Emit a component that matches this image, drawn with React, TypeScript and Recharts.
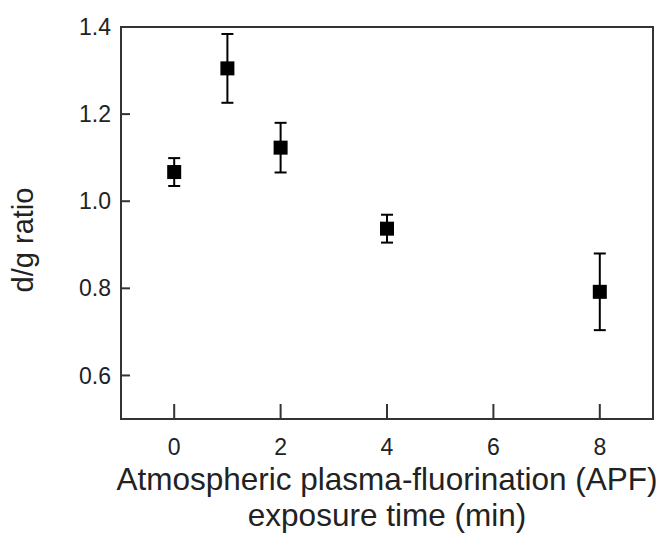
import { ScatterChart, Scatter, XAxis, YAxis, ErrorBar, ReferenceArea } from "recharts"

const times = [0, 1, 2, 4, 8]
const ratios = [1.067, 1.305, 1.123, 0.937, 0.792]
const errors = [0.032, 0.079, 0.057, 0.032, 0.088]

const xTicks = [0, 2, 4, 6, 8]
const yTicks = [0.6, 0.8, 1.0, 1.2, 1.4]
const xTitle = ["Atmospheric plasma-fluorination (APF)", "exposure time (min)"]
const yTitle = "d/g ratio"

const data = times.map((t, i) => ({ time: t, ratio: ratios[i], err: errors[i] }))

const font = "'Liberation Sans', Arial, sans-serif"
const ink = "#222"
const frame = "#333"
const markerSide = 14

const XTitle = (props: any) => {
  const { viewBox } = props
  const cx = viewBox.x + viewBox.width / 2
  return (
    <text textAnchor="middle" fontSize={31.5} fontFamily={font} fill={ink}>
      <tspan x={cx} y={viewBox.y + 71}>{xTitle[0]}</tspan>
      <tspan x={cx} y={viewBox.y + 107}>{xTitle[1]}</tspan>
    </text>
  )
}

const YTitle = (props: any) => {
  const { viewBox } = props
  const x = viewBox.x + 33
  const y = 240
  return (
    <text
      x={x}
      y={y}
      transform={`rotate(-90, ${x}, ${y})`}
      textAnchor="middle"
      fontSize={29}
      fontFamily={font}
      fill={ink}
    >
      {yTitle}
    </text>
  )
}

// filled square centred on the point the scatter computes
const SquareMark = (props: any) => {
  const { cx, cy } = props
  return <rect x={cx - markerSide / 2} y={cy - markerSide / 2} width={markerSide} height={markerSide} fill="#000" />
}

export default function App() {
  return (
    <div style={{ position: "absolute", left: 0, top: 0, background: "#fff" }}>
      <ScatterChart width={665} height={536} margin={{ top: 27, right: 12, bottom: 0, left: 0 }}>
        <XAxis
          dataKey="time"
          type="number"
          domain={[-1, 9]}
          ticks={xTicks}
          height={117}
          tickSize={-15}
          tickMargin={35}
          stroke={frame}
          strokeWidth={2}
          tick={{ fontSize: 23, fontFamily: font, fill: ink }}
          label={<XTitle />}
        />
        <YAxis
          dataKey="ratio"
          type="number"
          domain={[0.5, 1.4]}
          ticks={yTicks}
          width={121}
          tickSize={-9}
          tickMargin={19}
          stroke={frame}
          strokeWidth={2}
          tickFormatter={(v: number) => v.toFixed(1)}
          tick={{ fontSize: 23, fontFamily: font, fill: ink }}
          label={<YTitle />}
        />
        <ReferenceArea x1={-1} x2={9} y1={0.5} y2={1.4} fill="none" stroke={frame} strokeWidth={2} strokeOpacity={1} />
        <Scatter data={data} fill="#000" shape={<SquareMark />} isAnimationActive={false}>
          <ErrorBar dataKey="err" direction="y" width={6} stroke="#000" strokeWidth={2} />
        </Scatter>
      </ScatterChart>
    </div>
  )
}
